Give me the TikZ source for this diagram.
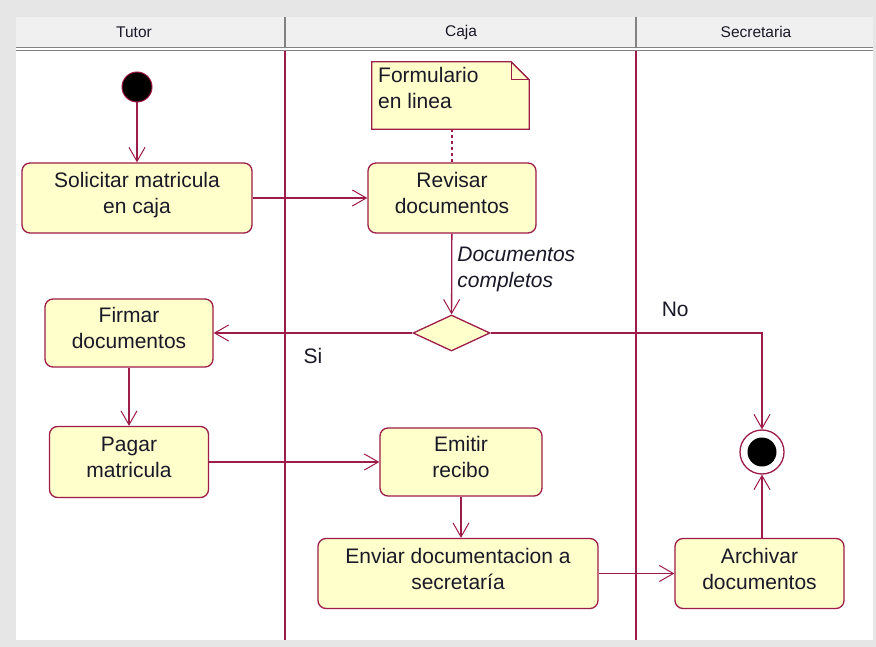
\documentclass[tikz,border=0pt]{standalone}
\usepackage{fontspec}
\setmainfont{Liberation Sans}
\usetikzlibrary{arrows.meta,shapes.geometric}
\definecolor{crim}{RGB}{158,28,72}
\definecolor{nfill}{RGB}{255,255,204}
\definecolor{outerbg}{RGB}{230,230,230}
\definecolor{headbg}{RGB}{240,240,240}
\definecolor{headln}{RGB}{130,130,130}
\definecolor{txt}{RGB}{25,25,40}
\begin{document}
\begin{tikzpicture}[x=1pt,y=-1pt,
  mainfont/.style={font=\fontsize{21}{26}\selectfont},
  act/.style={draw=crim, fill=nfill, rounded corners=8pt, line width=1.3pt,
    align=center, mainfont, text=txt, inner sep=0pt, text depth=10pt},
  arr/.style={draw=crim, line width=1.3pt,
    -{Straight Barb[length=14pt,width=16pt,line width=1pt]}},
  lab/.style={mainfont, text=txt, inner sep=2pt},
  lane/.style={draw=crim, line width=1.3pt},
  head/.style={font=\fontsize{15.5}{18}\selectfont, text=txt}]
\useasboundingbox (0,0) rectangle (876,647);
% frame and swimlanes
\fill[outerbg] (0,0) rectangle (876,647);
\fill[white] (16,17) rectangle (873,640);
\fill[headbg] (16,17) rectangle (873,47);
\draw[headln, line width=1pt] (16,47.5) -- (873,47.5);
\draw[headln, line width=1pt] (16,50.5) -- (873,50.5);
\draw[headln, line width=1.5pt] (285,17) -- (285,47);
\draw[headln, line width=1.5pt] (636,17) -- (636,47);
\draw[lane] (285,51) -- (285,640);
\draw[lane] (636,51) -- (636,640);
\node[head] (hTutor) at (134,32) {Tutor};
\node[head] (hCaja) at (461,32) {Caja};
\node[head] (hSec) at (756,32) {Secretaria};
% note
\node[minimum width=157pt, minimum height=67pt, inner sep=0pt] (note) at (450.5,95.5) {};
\draw[draw=crim, fill=nfill, line width=1.3pt] (note.south west) -- (note.north west)
  -- ([xshift=-18pt]note.north east) -- ([yshift=-18pt]note.north east)
  -- (note.south east) -- cycle;
\draw[crim, line width=1.2pt] ([xshift=-18pt]note.north east) |- ([yshift=-18pt]note.north east);
\node[mainfont, text=txt, anchor=north west, align=left, inner sep=0pt] (notetxt)
  at (378,67) {Formulario\\en linea};
% nodes
\node[circle, fill=black, draw=crim, line width=1pt, minimum size=30pt, inner sep=0pt] (start) at (137,87) {};
\node[act, minimum width=230pt, minimum height=70pt] (sol) at (137,198) {Solicitar matricula\\en caja};
\node[act, minimum width=168pt, minimum height=70pt] (rev) at (452,198) {Revisar\\documentos};
\node[diamond, draw=crim, fill=nfill, line width=1.3pt, minimum width=77pt,
  minimum height=36pt, inner sep=0pt, aspect=2.14] (dec) at (451.5,333) {};
\node[act, minimum width=168pt, minimum height=68pt] (fir) at (129,333) {Firmar\\documentos};
\node[act, minimum width=159pt, minimum height=71pt] (pag) at (129,462) {Pagar\\matricula};
\node[act, minimum width=162pt, minimum height=68pt] (emi) at (461,462) {Emitir\\recibo};
\node[act, minimum width=280pt, minimum height=70pt] (env) at (458,573.5) {Enviar documentacion a\\secretaría};
\node[act, minimum width=169pt, minimum height=70pt] (arc) at (759.5,573.5) {Archivar\\documentos};
\node[circle, draw=crim, fill=white, line width=1.3pt, minimum size=44pt, inner sep=0pt,
  path picture={\fill[black] (path picture bounding box.center) circle (14.5pt);}] (fin) at (762,452) {};
% connectors
\draw[arr] (start) -- (sol);
\draw[arr] (sol) -- (rev);
\draw[crim, line width=1.2pt, dash pattern=on 3pt off 3pt] (note.south -| rev) -- (rev);
\draw[arr] (rev) -- node[lab, anchor=west, xshift=3pt, yshift=5pt, align=left,
  font=\fontsize{21}{26}\selectfont\itshape] (lblDoc) {Documentos\\completos} (dec);
\draw[arr] (dec) -- node[lab, below=13pt] (lblSi) {Si} (fir);
\draw[arr] (dec.east) -| node[lab, pos=0.34, above=14pt] (lblNo) {No} (fin);
\draw[arr] (fir) -- (pag);
\draw[arr] (pag) -- (emi);
\draw[arr] (emi) -- (emi |- env.north);
\draw[arr] (env) -- (arc);
\draw[arr] (fin |- arc.north) -- (fin);
\end{tikzpicture}
\end{document}
